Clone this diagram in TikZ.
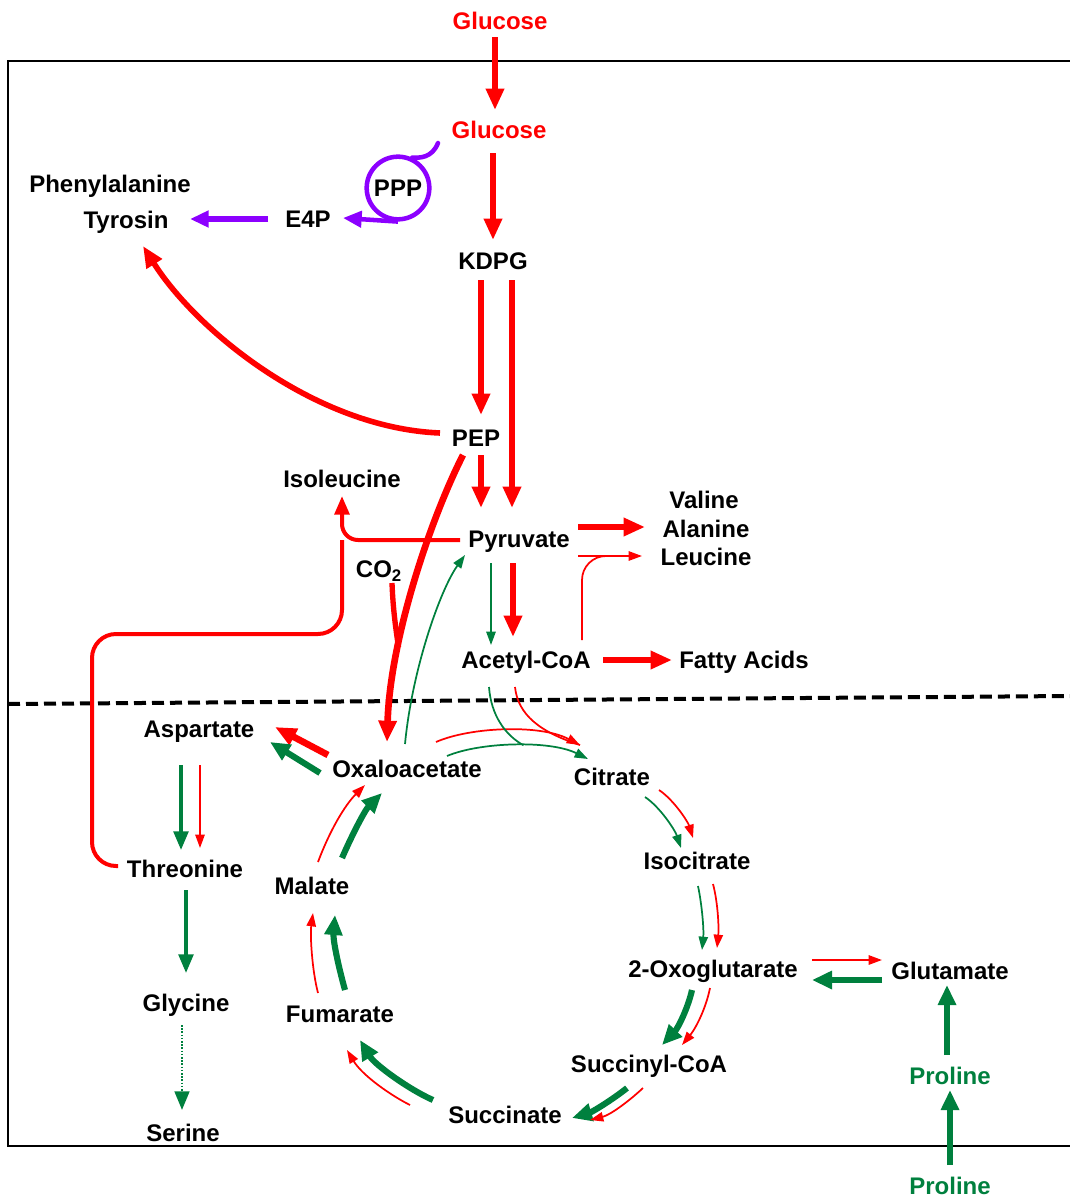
\documentclass[tikz,border=0pt]{standalone}
\usepackage{fontspec}
\setmainfont{Liberation Sans}
\usetikzlibrary{arrows.meta,calc}
\definecolor{tcagreen}{RGB}{0,128,62}
\definecolor{pppviolet}{RGB}{140,0,255}

\begin{document}
\begin{tikzpicture}[x=0.75pt,y=0.75pt,yscale=-1,xscale=1,
  met/.style={font=\fontsize{18}{21}\selectfont\bfseries, inner sep=0.75pt, text height=12.9pt, text depth=0pt},
  fatred/.style={draw=red, line width=5pt, -{Triangle[length=16pt,width=13pt]}},
  fatgreen/.style={draw=tcagreen, line width=4.6pt, -{Triangle[length=15pt,width=13pt]}},
  midred/.style={draw=red, line width=3pt, -{Triangle[length=14pt,width=11pt]}},
  midgreen/.style={draw=tcagreen, line width=2.6pt, -{Triangle[length=14pt,width=11pt]}},
  thinred/.style={draw=red, line width=1.3pt, -{Triangle[length=10pt,width=7pt]}},
  thingreen/.style={draw=tcagreen, line width=1.3pt, -{Triangle[length=10pt,width=7pt]}},
  fatviolet/.style={draw=pppviolet, line width=4pt, -{Triangle[length=14pt,width=12pt]}},
]
\useasboundingbox (0,0) rectangle (1070,1199);

%Shape: Cell border (open on the right)
\draw[line width=1.8pt] (1070,61) -- (8,61) -- (8,1146) -- (1070,1146);
%Shape: Membrane (dashed)
\draw[line width=3pt, dash pattern=on 9pt off 4.5pt] (8,704) -- (1070,696);

% Text Node
\node[met, red] (gluout) at (500,21) {Glucose};
\node[met, red] (gluin) at (499,130) {Glucose};
\node[met] (kdpg) at (493,261) {KDPG};
\node[met] (pep) at (476,438) {PEP};
\node[met] (pyr) at (519,539) {Pyruvate};
\node[met] (acoa) at (526,660) {Acetyl-CoA};
\node[met] (fatty) at (744,660) {Fatty Acids};
\node[met] (val) at (704,500) {Valine};
\node[met] (ala) at (706,529) {Alanine};
\node[met] (leu) at (706,557) {Leucine};
\node[met] (ile) at (342,479) {Isoleucine};
\node[met] (co2) at (379,569) {CO\textsubscript{2}};
\node[met] (phe) at (110,184) {Phenylalanine};
\node[met] (tyr) at (126,220) {Tyrosin};
\node[met] (e4p) at (308,219) {E4P};
\node[met, draw=pppviolet, line width=3.4pt, circle, minimum size=47pt, text height=, text depth=, inner sep=0pt] (ppp) at (398,188) {PPP};
% Text Node
\node[met] (asp) at (199,729) {Aspartate};
\node[met] (oaa) at (407,769) {Oxaloacetate};
\node[met] (cit) at (612,777) {Citrate};
\node[met] (icit) at (697,861) {Isocitrate};
\node[met] (ogl) at (713,969) {2-Oxoglutarate};
\node[met] (glu) at (950,971) {Glutamate};
\node[met] (scoa) at (649,1064) {Succinyl-CoA};
\node[met] (succ) at (505,1115) {Succinate};
\node[met] (fum) at (340,1014) {Fumarate};
\node[met] (mal) at (312,886) {Malate};
\node[met] (thr) at (185,869) {Threonine};
\node[met] (gly) at (186,1003) {Glycine};
\node[met] (ser) at (183,1133) {Serine};
\node[met, tcagreen] (proin) at (950,1076) {Proline};
\node[met, tcagreen] (proout) at (950,1186) {Proline};

%Glycolysis (Entner-Doudoroff)
\draw[fatred] ($(gluout)+(-5,16)$) -- ($(gluin)+(-4,-20)$);
\draw[fatred] ($(gluin)+(-6,23)$) -- ($(kdpg)+(0,-21)$);
\draw[fatred] ($(kdpg)+(-12,19)$) -- ($(pep)+(5,-23)$);
\draw[fatred] ($(kdpg)+(19,19)$) -- ($(pyr)+(-7,-31)$);
\draw[fatred] ($(pep)+(5,17)$) -- ($(pyr)+(-38,-31)$);
\draw[fatred, line width=4.2pt] ($(pep)+(-36,-5)$) .. controls (315,428) and (196,330) .. ($(tyr)+(17,26)$);
\draw[fatred] ($(pep)+(-13,17)$) .. controls (430,520) and (390,640) .. coordinate[pos=0.7] (co2join) ($(oaa)+(-20,-27)$);
\draw[red, line width=4pt] ($(co2)+(13,14)$) .. controls (393,610) and (396,630) .. (co2join);

%Pentose phosphate loop
\draw[pppviolet, line width=3.4pt, line cap=round] ($(gluin)+(-61,13)$) .. controls (432,158) and (420,158) .. (ppp.65);
\draw[fatviolet, line width=3.4pt, -{Triangle[length=14pt,width=12pt]}] (ppp.south) -- ($(e4p)+(35,-1)$);
\draw[fatviolet] ($(e4p)+(-40,0)$) -- ($(tyr)+(64,-1)$);

%Pyruvate branches
\draw[midred, rounded corners=12] ($(pyr)+(-59,1)$) -| ($(ile)+(0,17)$);
\draw[red, line width=3pt, rounded corners=18] ($(thr)+(-67,-3)$) -| ($(thr)+(-93,-235)$) -| ($(ile)+(0,61)$);
\draw[fatred] ($(pyr)+(59,-12)$) -- ($(ala)+(-61,-2)$);
\draw[thinred] ($(pyr)+(59,17)$) -- ($(leu)+(-64,-1)$);
\draw[red, line width=1.3pt, rounded corners=18] ($(acoa)+(56,-20)$) |- ($(leu)+(-92,-1)$);
\draw[fatred] ($(pyr)+(-6,24)$) -- ($(acoa)+(-13,-23)$);
\draw[thingreen] ($(pyr)+(-28,24)$) -- ($(acoa)+(-35,-15)$);
\draw[fatred] ($(acoa)+(77,0)$) -- ($(fatty)+(-72,0)$);
\draw[thingreen] ($(oaa)+(-2,-25)$) .. controls (412,670) and (440,590) .. ($(pyr)+(-54,16)$);

%TCA cycle
\draw[thinred] ($(oaa)+(29,-27)$) .. controls (470,727) and (540,724) .. ($(cit)+(-32,-32)$);
\draw[thingreen] ($(oaa)+(40,-13)$) .. controls (480,742) and (550,740) .. coordinate[pos=0.55] (citjoin) ($(cit)+(-24,-18)$);
\draw[red, line width=1.3pt] ($(acoa)+(-11,27)$) .. controls (518,715) and (540,732) .. ($(cit)+(-32,-32)$);
\draw[tcagreen, line width=1.3pt] ($(acoa)+(-37,27)$) .. controls (491,715) and (505,735) .. (citjoin);
\draw[thingreen] ($(cit)+(33,20)$) .. controls (660,807) and (675,830) .. ($(icit)+(-16,-13)$);
\draw[thinred] ($(cit)+(47,13)$) .. controls (674,800) and (688,822) .. ($(icit)+(-4,-23)$);
\draw[thingreen] ($(icit)+(1,25)$) .. controls (702,905) and (704,930) .. ($(ogl)+(-11,-19)$);
\draw[thinred] ($(icit)+(16,23)$) .. controls (718,903) and (719,928) .. ($(ogl)+(4,-21)$);
\draw[fatgreen] ($(ogl)+(-21,21)$) .. controls (688,1008) and (678,1028) .. ($(scoa)+(13,-19)$);
\draw[thinred] ($(ogl)+(-3,19)$) .. controls (706,1008) and (696,1028) .. ($(scoa)+(33,-19)$);
\draw[fatgreen] ($(scoa)+(-22,24)$) .. controls (612,1100) and (592,1112) .. ($(succ)+(67,3)$);
\draw[thinred] ($(scoa)+(-6,24)$) .. controls (628,1102) and (610,1115) .. ($(succ)+(85,5)$);
\draw[fatgreen] ($(succ)+(-72,-15)$) .. controls (410,1090) and (375,1065) .. ($(fum)+(20,26)$);
\draw[thinred] ($(succ)+(-95,-10)$) .. controls (390,1095) and (362,1075) .. ($(fum)+(7,36)$);
\draw[thinred] ($(fum)+(-22,-21)$) .. controls (312,970) and (310,935) .. ($(mal)+(1,27)$);
\draw[fatgreen] ($(fum)+(5,-24)$) .. controls (338,965) and (333,940) .. ($(mal)+(23,29)$);
\draw[thinred] ($(mal)+(6,-24)$) .. controls (330,830) and (345,805) .. ($(oaa)+(-42,16)$);
\draw[fatgreen] ($(mal)+(30,-28)$) .. controls (352,835) and (365,810) .. ($(oaa)+(-25,24)$);

%Aspartate family
\draw[fatred] ($(oaa)+(-79,-14)$) -- ($(asp)+(76,-2)$);
\draw[fatgreen] ($(oaa)+(-87,4)$) -- ($(asp)+(71,13)$);
\draw[midgreen] ($(asp)+(-18,36)$) -- ($(thr)+(-4,-19)$);
\draw[thinred] ($(asp)+(1,36)$) -- ($(thr)+(15,-21)$);
\draw[midgreen] ($(thr)+(1,21)$) -- ($(gly)+(0,-30)$);
\draw[midgreen, line width=2pt, dash pattern=on 1.2pt off 1.2pt] ($(gly)+(-4,22)$) -- ($(ser)+(-1,-23)$);

%Glutamate / proline
\draw[thinred] ($(ogl)+(99,-9)$) -- ($(glu)+(-68,-11)$);
\draw[fatgreen] ($(glu)+(-68,9)$) -- ($(ogl)+(99,11)$);
\draw[fatgreen] ($(proin)+(-3,-21)$) -- ($(glu)+(-3,14)$);
\draw[fatgreen] ($(proout)+(0,-21)$) -- ($(proin)+(0,14)$);

\end{tikzpicture}
\end{document}
